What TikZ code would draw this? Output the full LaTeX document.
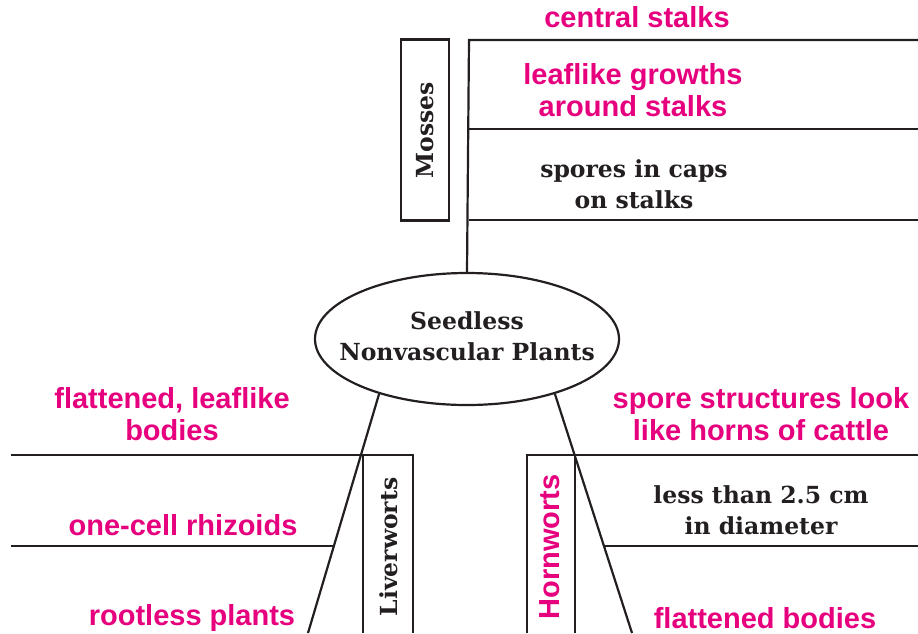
\documentclass[tikz,border=0pt]{standalone}
\usepackage{fontspec}
\setmainfont{DejaVu Serif}
\newfontfamily\pinkfont{Liberation Sans}
\usepackage{xcolor}
\usetikzlibrary{positioning, calc, shapes.geometric}
\definecolor{notepink}{RGB}{230,0,126}
\definecolor{inkblack}{RGB}{35,31,32}

\tikzset{
  keyterm/.style={font=\pinkfont\bfseries\fontsize{29}{32.5}\selectfont, text=notepink, align=center, inner sep=0pt},
  factline/.style={font=\bfseries\fontsize{23.5}{31}\selectfont, text=inkblack, align=center, inner sep=0pt},
  sidebox/.style={draw, rotate=90, inner sep=0pt}
}

\begin{document}
\begin{tikzpicture}[line width=2.2pt, color=inkblack, x=1pt, y=-1pt]

    \useasboundingbox (0,0) rectangle (918,633);

    % --- CENTRAL TOPIC ---
    \node[ellipse, draw, minimum width=304pt, minimum height=132pt, inner sep=0pt] (plants) at (467,339) {};
    \node[factline] (plantsText) at ([yshift=3pt]plants.center) {Seedless\\Nonvascular Plants};

    % --- MOSSES BRANCH (TOP) ---
    \node[sidebox, minimum width=181pt, minimum height=48pt] (mosses) at (425,130) {};
    \node[factline, rotate=90] (mossesText) at (mosses.center) {Mosses};

    \coordinate (mossTop) at (469,40);
    \coordinate (mossMid) at (469,129);
    \coordinate (mossLow) at (469,220);
    \coordinate (mossTopR) at (918,40);
    \coordinate (mossMidR) at (918,129);
    \coordinate (mossLowR) at (918,220);

    \draw (plants.north) -- (mossTop) -- (mossTopR);
    \draw (mossMid) -- (mossMidR);
    \draw (mossLow) -- (mossLowR);

    \node[keyterm] (stalks) at (637,17) {central stalks};
    \node[keyterm] (growths) at (633,90) {leaflike growths\\around stalks};
    \node[factline] (caps) at (634,184) {spores in caps\\on stalks};

    % --- LIVERWORTS BRANCH (LEFT) ---
    \coordinate (liverTL) at (363,455);
    \coordinate (liverTR) at (413,455);
    \coordinate (liverBL) at (363,633);
    \coordinate (liverBR) at (413,633);
    \coordinate (leftTop) at (11,455);
    \coordinate (leftMid) at (11,546);
    \coordinate (rhizEnd) at (334,546);
    \coordinate (liverFoot) at (308,633);

    \draw (leftTop) -- (liverTR) -- (liverBR);
    \draw (liverTL) -- (liverBL);
    \draw (leftMid) -- (rhizEnd);
    \draw (plants.212) -- (liverFoot);

    \node[factline, rotate=90] (liverworts) at (389,547) {Liverworts};

    \node[keyterm] (leaflike) at (172,414) {flattened, leaflike\\bodies};
    \node[keyterm] (rhizoids) at (183,525) {one-cell rhizoids};
    \node[keyterm] (rootless) at (192,618) {rootless plants};

    % --- HORNWORTS BRANCH (RIGHT) ---
    \coordinate (hornTL) at (527,455);
    \coordinate (hornTR) at (575,455);
    \coordinate (hornBL) at (527,633);
    \coordinate (hornBR) at (575,633);
    \coordinate (rightTop) at (918,455);
    \coordinate (rightMid) at (918,546);
    \coordinate (diamEnd) at (604,546);
    \coordinate (hornFoot) at (632,633);

    \draw (hornBL) -- (hornTL) -- (rightTop);
    \draw (hornTR) -- (hornBR);
    \draw (diamEnd) -- (rightMid);
    \draw (plants.-32) -- (hornFoot);

    \node[keyterm, rotate=90] (hornworts) at (550,547) {Hornworts};

    \node[keyterm] (horns) at (761,414) {spore structures look\\like horns of cattle};
    \node[factline] (diameter) at (761,510) {less than 2.5 cm\\in diameter};
    \node[keyterm] (flatbodies) at (765,618) {flattened bodies};

\end{tikzpicture}
\end{document}
